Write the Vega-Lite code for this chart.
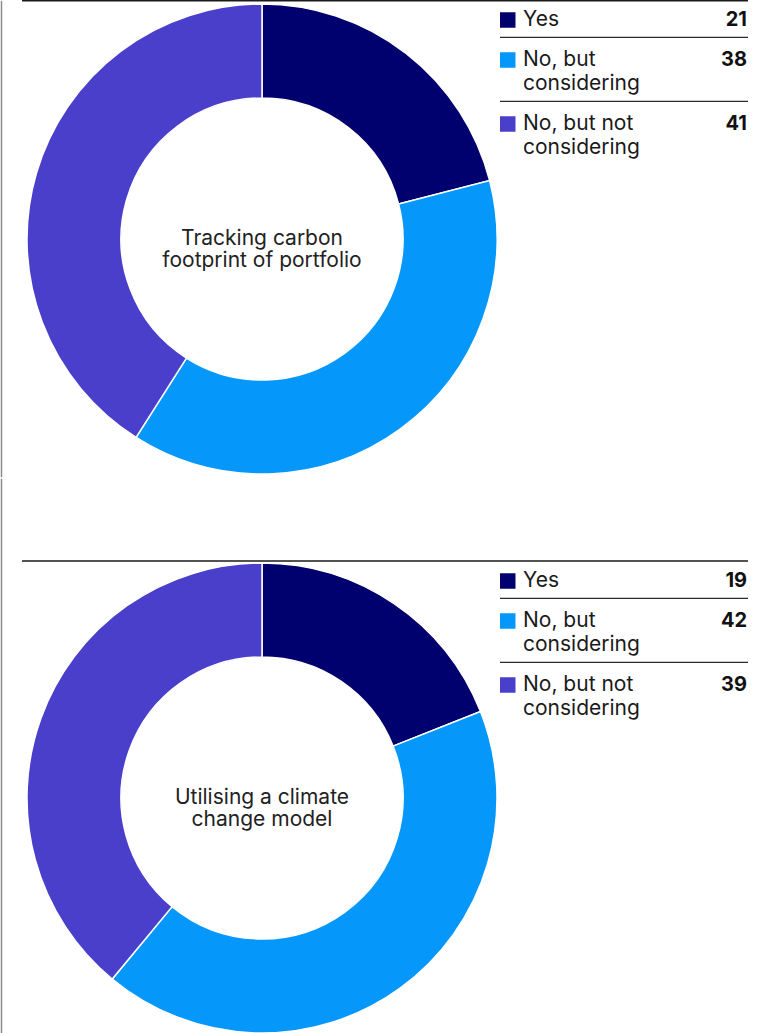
{
  "$schema": "https://vega.github.io/schema/vega-lite/v6.json",
  "padding": 0,
  "autosize": {"type": "pad"},
  "background": "white",
  "config": {"view": {"stroke": null}, "font": "Inter"},
  "datasets": {
    "carbon": [
      {"category": "Yes", "value": 21, "order": 1, "lines": ["Yes"]},
      {"category": "No, but considering", "value": 38, "order": 2, "lines": ["No, but", "considering"]},
      {"category": "No, but not considering", "value": 41, "order": 3, "lines": ["No, but not", "considering"]}
    ],
    "climate": [
      {"category": "Yes", "value": 19, "order": 1, "lines": ["Yes"]},
      {"category": "No, but considering", "value": 42, "order": 2, "lines": ["No, but", "considering"]},
      {"category": "No, but not considering", "value": 39, "order": 3, "lines": ["No, but not", "considering"]}
    ]
  },
  "spacing": 0,
  "vconcat": [
    {
      "bounds": "flush",
      "spacing": 0,
      "hconcat": [
        {
          "width": 524,
          "height": 478,
          "data": {"name": "carbon"},
          "layer": [
            {
              "data": {"values": [{"k": 1}]},
              "mark": {"type": "rule", "color": "#8c8c8c", "strokeWidth": 1.5},
              "encoding": {"x": {"value": 1.5}, "y": {"value": 0.75}, "y2": {"value": 477.25}}
            },
            {
              "data": {"values": [{"k": 1}]},
              "mark": {"type": "rule", "color": "#1a1a1a", "strokeWidth": 1.5},
              "encoding": {"x": {"value": 22}, "x2": {"value": 748}, "y": {"value": 0.75}}
            },
            {
              "mark": {"type": "arc", "outerRadius": 235, "innerRadius": 141, "stroke": "white", "strokeWidth": 1.5},
              "encoding": {
                "theta": {"field": "value", "type": "quantitative", "stack": true},
                "order": {"field": "order", "type": "quantitative", "sort": "ascending"},
                "color": {
                  "field": "category", "type": "nominal",
                  "scale": {"domain": ["Yes", "No, but considering", "No, but not considering"], "range": ["#00006e", "#0598fa", "#4a3fcb"]},
                  "legend": null
                }
              }
            },
            {
              "data": {"values": [{"t": "Tracking carbon\nfootprint of portfolio"}]},
              "mark": {"type": "text", "lineBreak": "\n", "fontSize": 21, "lineHeight": 22, "color": "#222222", "align": "center", "baseline": "middle"},
              "encoding": {"text": {"field": "t"}}
            }
          ]
        },
        {
          "width": 224,
          "height": 120,
          "data": {"name": "carbon"},
          "transform": [
            {"flatten": ["lines"], "as": ["line"]},
            {"window": [{"op": "row_number", "as": "sub"}], "groupby": ["category"]},
            {"window": [{"op": "row_number", "as": "lineNo"}], "sort": [{"field": "order"}, {"field": "sub"}]}
          ],
          "encoding": {
            "y": {"field": "lineNo", "type": "ordinal", "scale": {"type": "band", "domain": [1, 2, 3, 4, 5], "paddingInner": 0, "paddingOuter": 0}, "axis": null}
          },
          "layer": [
            {
              "transform": [{"filter": "datum.sub == 1 && datum.order > 1"}],
              "mark": {"type": "rule", "x": -24, "x2": 224, "color": "#2a2a2a", "strokeWidth": 1.3},
              "encoding": {
                "yOffset": {"field": "order", "type": "quantitative", "scale": {"domain": [1, 4], "range": [-2.7, 45.3], "zero": false, "nice": false}}
              }
            },
            {
              "transform": [{"filter": "datum.sub == 1"}],
              "mark": {"type": "square", "x": -16.25, "size": 240, "filled": true, "opacity": 1},
              "encoding": {
                "yOffset": {"field": "order", "type": "quantitative", "scale": {"domain": [1, 4], "range": [20, 68], "zero": false, "nice": false}},
                "color": {
                  "field": "category", "type": "nominal",
                  "scale": {"domain": ["Yes", "No, but considering", "No, but not considering"], "range": ["#00006e", "#0598fa", "#4a3fcb"]},
                  "legend": null
                }
              }
            },
            {
              "mark": {"type": "text", "x": -1, "align": "left", "baseline": "middle", "fontSize": 21, "color": "#1a1a1a"},
              "encoding": {
                "yOffset": {"field": "order", "type": "quantitative", "scale": {"domain": [1, 4], "range": [20, 68], "zero": false, "nice": false}},
                "text": {"field": "line"}
              }
            },
            {
              "transform": [{"filter": "datum.sub == 1"}],
              "mark": {"type": "text", "x": 223, "align": "right", "baseline": "middle", "fontSize": 20, "fontWeight": "bold", "color": "#111111"},
              "encoding": {
                "yOffset": {"field": "order", "type": "quantitative", "scale": {"domain": [1, 4], "range": [20, 68], "zero": false, "nice": false}},
                "text": {"field": "value"}
              }
            }
          ],
          "resolve": {"scale": {"yOffset": "independent"}}
        }
      ]
    },
    {
      "bounds": "flush",
      "spacing": 0,
      "hconcat": [
        {
          "width": 524,
          "height": 470,
          "data": {"name": "climate"},
          "layer": [
            {
              "data": {"values": [{"k": 1}]},
              "mark": {"type": "rule", "color": "#8c8c8c", "strokeWidth": 1.5},
              "encoding": {"x": {"value": 1.5}, "y": {"value": -84.25}, "y2": {"value": 470}}
            },
            {
              "data": {"values": [{"k": 1}]},
              "mark": {"type": "rule", "color": "#1a1a1a", "strokeWidth": 1.3},
              "encoding": {"x": {"value": 22}, "x2": {"value": 748}, "y": {"value": -2}}
            },
            {
              "mark": {"type": "arc", "outerRadius": 235, "innerRadius": 141, "stroke": "white", "strokeWidth": 1.5},
              "encoding": {
                "theta": {"field": "value", "type": "quantitative", "stack": true},
                "order": {"field": "order", "type": "quantitative", "sort": "ascending"},
                "color": {
                  "field": "category", "type": "nominal",
                  "scale": {"domain": ["Yes", "No, but considering", "No, but not considering"], "range": ["#00006e", "#0598fa", "#4a3fcb"]},
                  "legend": null
                }
              }
            },
            {
              "data": {"values": [{"t": "Utilising a climate\nchange model"}]},
              "mark": {"type": "text", "lineBreak": "\n", "fontSize": 21, "lineHeight": 22, "color": "#222222", "align": "center", "baseline": "middle"},
              "encoding": {"text": {"field": "t"}}
            }
          ]
        },
        {
          "width": 224,
          "height": 120,
          "data": {"name": "climate"},
          "transform": [
            {"flatten": ["lines"], "as": ["line"]},
            {"window": [{"op": "row_number", "as": "sub"}], "groupby": ["category"]},
            {"window": [{"op": "row_number", "as": "lineNo"}], "sort": [{"field": "order"}, {"field": "sub"}]}
          ],
          "encoding": {
            "y": {"field": "lineNo", "type": "ordinal", "scale": {"type": "band", "domain": [1, 2, 3, 4, 5], "paddingInner": 0, "paddingOuter": 0}, "axis": null}
          },
          "layer": [
            {
              "transform": [{"filter": "datum.sub == 1 && datum.order > 1"}],
              "mark": {"type": "rule", "x": -24, "x2": 224, "color": "#2a2a2a", "strokeWidth": 1.3},
              "encoding": {
                "yOffset": {"field": "order", "type": "quantitative", "scale": {"domain": [1, 4], "range": [-4.7, 43.3], "zero": false, "nice": false}}
              }
            },
            {
              "transform": [{"filter": "datum.sub == 1"}],
              "mark": {"type": "square", "x": -16.25, "size": 240, "filled": true, "opacity": 1},
              "encoding": {
                "yOffset": {"field": "order", "type": "quantitative", "scale": {"domain": [1, 4], "range": [18, 66], "zero": false, "nice": false}},
                "color": {
                  "field": "category", "type": "nominal",
                  "scale": {"domain": ["Yes", "No, but considering", "No, but not considering"], "range": ["#00006e", "#0598fa", "#4a3fcb"]},
                  "legend": null
                }
              }
            },
            {
              "mark": {"type": "text", "x": -1, "align": "left", "baseline": "middle", "fontSize": 21, "color": "#1a1a1a"},
              "encoding": {
                "yOffset": {"field": "order", "type": "quantitative", "scale": {"domain": [1, 4], "range": [18, 66], "zero": false, "nice": false}},
                "text": {"field": "line"}
              }
            },
            {
              "transform": [{"filter": "datum.sub == 1"}],
              "mark": {"type": "text", "x": 223, "align": "right", "baseline": "middle", "fontSize": 20, "fontWeight": "bold", "color": "#111111"},
              "encoding": {
                "yOffset": {"field": "order", "type": "quantitative", "scale": {"domain": [1, 4], "range": [18, 66], "zero": false, "nice": false}},
                "text": {"field": "value"}
              }
            }
          ],
          "resolve": {"scale": {"yOffset": "independent"}}
        }
      ]
    }
  ]
}
